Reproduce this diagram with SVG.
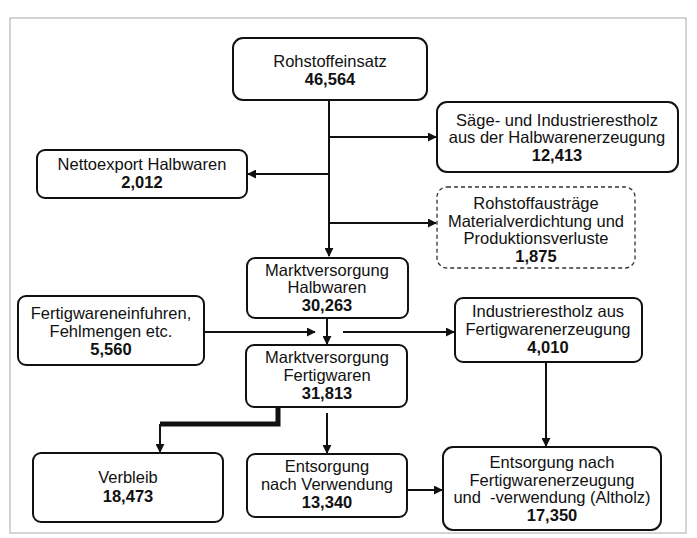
<svg xmlns="http://www.w3.org/2000/svg" width="697" height="538" viewBox="0 0 697 538">
<defs>
<marker id="ah" viewBox="0 0 10 10" refX="9" refY="5" markerWidth="9" markerHeight="9" markerUnits="userSpaceOnUse" orient="auto">
<path d="M0,0 L10,5 L0,10 z" fill="#111"/>
</marker>
</defs>
<style>
.box{fill:#fff;stroke:#111;stroke-width:2}
.dash{fill:#fff;stroke:#333;stroke-width:1.3;stroke-dasharray:4,3}
text{font-family:"Liberation Sans",Arial,sans-serif;font-size:16.5px;fill:#111;text-anchor:middle}
.b{font-weight:bold}
.c{stroke:#111;stroke-width:2;fill:none}
.k{stroke:#111;stroke-width:5;fill:none}
</style>
<rect x="0" y="0" width="697" height="538" fill="#fff"/>
<rect x="10" y="18" width="676" height="515" fill="none" stroke="#aaa" stroke-width="1"/>
<g id="connectors">
<path class="c" d="M329,100 V256" marker-end="url(#ah)"/>
<path class="c" d="M329,137 H436" marker-end="url(#ah)"/>
<path class="c" d="M329,174 H248" marker-end="url(#ah)"/>
<path class="c" d="M329,223 H436" marker-end="url(#ah)"/>
<path class="c" d="M327,318 V344" marker-end="url(#ah)"/>
<path class="c" d="M204,332 H315" marker-end="url(#ah)"/>
<path class="c" d="M343,332 H454" marker-end="url(#ah)"/>
<path class="c" d="M546,362 V446" marker-end="url(#ah)"/>
<path class="k" d="M278,407 V424 H160"/>
<path class="c" d="M160,424 V452" marker-end="url(#ah)"/>
<path class="c" d="M327,413 V453" marker-end="url(#ah)"/>
<path class="c" d="M407,490 H442" marker-end="url(#ah)"/>
</g>
<g id="n1"><rect class="box" x="233" y="38" width="194" height="62" rx="10"/>
<text x="330" y="67">Rohstoffeinsatz</text><text class="b" x="330" y="85">46,564</text></g>
<g id="n2"><rect class="box" x="437" y="102" width="241" height="70" rx="10"/>
<text x="557" y="126">Säge- und Industrierestholz</text><text x="557" y="143">aus der Halbwarenerzeugung</text><text class="b" x="557" y="161">12,413</text></g>
<g id="n3"><rect class="box" x="37" y="150" width="210" height="48" rx="8"/>
<text x="142" y="170">Nettoexport Halbwaren</text><text class="b" x="142" y="188">2,012</text></g>
<g id="n4"><rect class="dash" x="437" y="187" width="198" height="81" rx="10"/>
<text x="536" y="209">Rohstoffausträge</text><text x="536" y="227">Materialverdichtung und</text><text x="536" y="244">Produktionsverluste</text><text class="b" x="536" y="262">1,875</text></g>
<g id="n5"><rect class="box" x="247" y="258" width="161" height="60" rx="8"/>
<text x="327" y="276">Marktversorgung</text><text x="327" y="293">Halbwaren</text><text class="b" x="327" y="311">30,263</text></g>
<g id="n6"><rect class="box" x="18" y="296" width="186" height="69" rx="8"/>
<text x="111" y="319">Fertigwareneinfuhren,</text><text x="111" y="337">Fehlmengen etc.</text><text class="b" x="111" y="355">5,560</text></g>
<g id="n7"><rect class="box" x="455" y="298" width="187" height="64" rx="8"/>
<text x="548" y="317">Industrierestholz aus</text><text x="548" y="335">Fertigwarenerzeugung</text><text class="b" x="548" y="353">4,010</text></g>
<g id="n8"><rect class="box" x="246" y="345" width="161" height="62" rx="8"/>
<text x="327" y="363">Marktversorgung</text><text x="327" y="381">Fertigwaren</text><text class="b" x="327" y="399">31,813</text></g>
<g id="n9"><rect class="box" x="33" y="453" width="190" height="69" rx="8"/>
<text x="128" y="483">Verbleib</text><text class="b" x="128" y="502">18,473</text></g>
<g id="n10"><rect class="box" x="247" y="454" width="160" height="63" rx="8"/>
<text x="327" y="472">Entsorgung</text><text x="327" y="490">nach Verwendung</text><text class="b" x="327" y="508">13,340</text></g>
<g id="n11"><rect class="box" x="443" y="447" width="218" height="83" rx="10"/>
<text x="552" y="468">Entsorgung nach</text><text x="552" y="486">Fertigwarenerzeugung</text><text x="552" y="503">und&#160; -verwendung (Altholz)</text><text class="b" x="552" y="521">17,350</text></g>
</svg>
